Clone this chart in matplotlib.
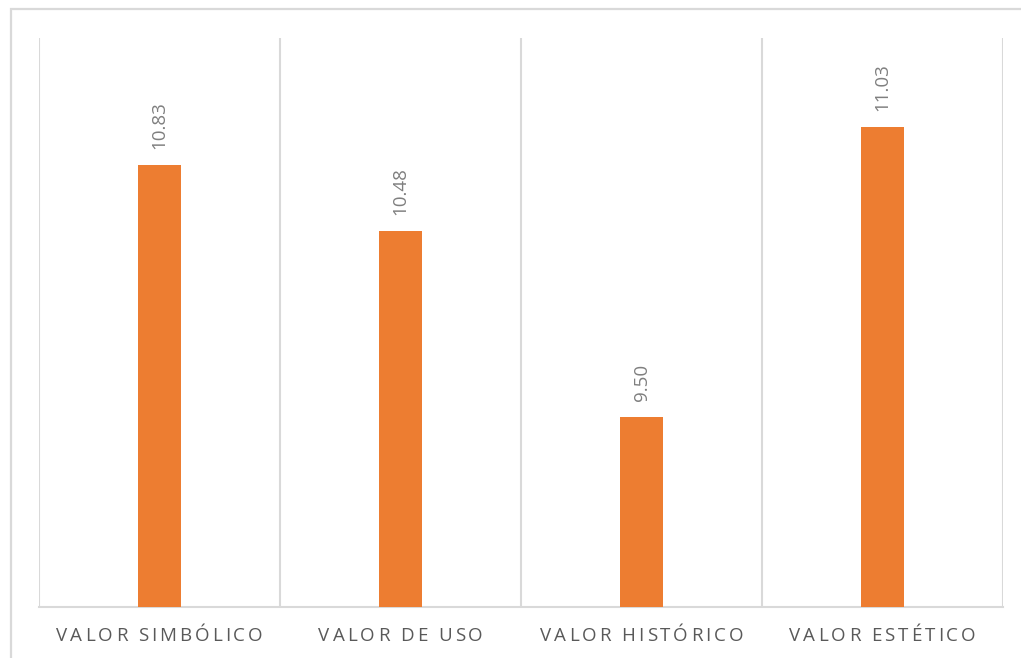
import matplotlib
matplotlib.use("Agg")
import matplotlib.pyplot as plt
from matplotlib.patches import Rectangle

categories = ["VALOR SIMBÓLICO", "VALOR DE USO", "VALOR HISTÓRICO", "VALOR ESTÉTICO"]
values = [10.83, 10.48, 9.50, 11.03]
value_labels = ["10.83", "10.48", "9.50", "11.03"]

W, H = 1021, 658
fig = plt.figure(figsize=(W / 100, H / 100), dpi=100)
fig.patch.set_facecolor("white")

# outer chart border
fig.patches.append(Rectangle((10.5 / W, -0.01), 1.02, 1 - 8.5 / H + 0.01,
                             transform=fig.transFigure, fill=False,
                             edgecolor="#d9d9d9", linewidth=1.6, zorder=0))

ax = fig.add_axes([39 / W, 1 - 607 / H, (1003 - 39) / W, (607 - 38) / H])
x = list(range(len(categories)))
ax.bar(x, values, width=0.18, color="#ED7D31", zorder=3)
ax.set_xlim(-0.5, len(categories) - 0.5)
ax.set_ylim(8.5, 11.5)

for b in [i - 0.5 for i in range(len(categories) + 1)]:
    ax.axvline(b, color="#d9d9d9", linewidth=1.5, zorder=1)

for s in ["top", "right", "left"]:
    ax.spines[s].set_visible(False)
ax.spines["bottom"].set_color("#d9d9d9")
ax.spines["bottom"].set_linewidth(1.5)
ax.set_yticks([])
ax.set_xticks([])

for xi, v, lab in zip(x, values, value_labels):
    ax.annotate(lab, (xi, v), xytext=(0, 16), textcoords="offset pixels",
                rotation=90, ha="center", va="bottom", color="#7f7f7f",
                fontsize=13.5, family="Open Sans")

# category labels with letter spacing, drawn character by character
fig.canvas.draw()
renderer = fig.canvas.get_renderer()
spacing = 3.0  # px
fs = 13.5
label_y_px = 636
for xi, lab in zip(x, categories):
    widths = []
    for ch in lab:
        t = fig.text(0, 0, ch if ch != " " else "I", fontsize=fs, family="Open Sans")
        bb = t.get_window_extent(renderer)
        widths.append(bb.width if ch != " " else bb.width * 0.9)
        t.remove()
    total = sum(widths) + spacing * (len(lab) - 1)
    cx_disp = ax.transData.transform((xi, 0))[0]
    start = cx_disp - total / 2
    pos = start
    for ch, w in zip(lab, widths):
        if ch != " ":
            fig.text(pos / W, 1 - label_y_px / H, ch, fontsize=fs, family="Open Sans",
                     color="#595959", ha="left", va="center")
        pos += w + spacing

fig.savefig("out.png", dpi=100, facecolor="white")
